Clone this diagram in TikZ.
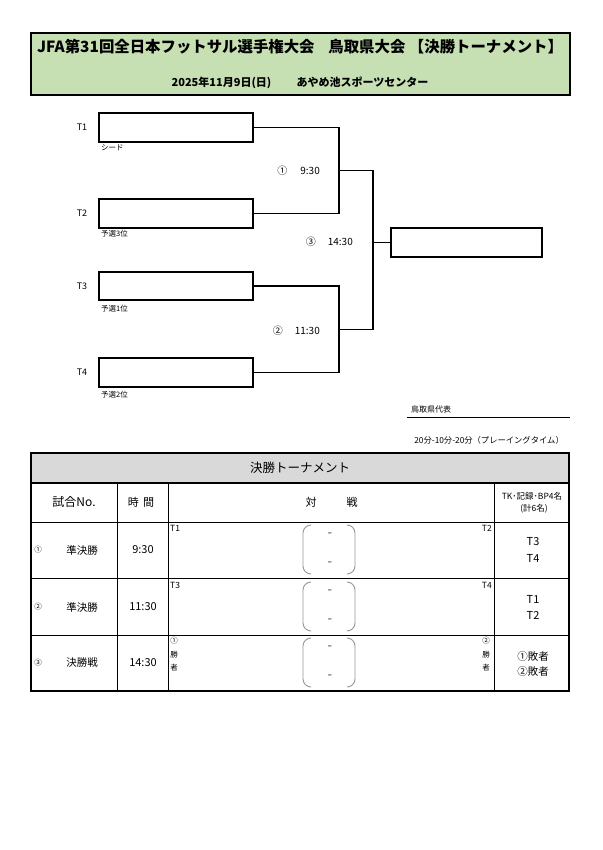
\documentclass[tikz,border=0pt]{standalone}
\usepackage{fontspec}
\setmainfont{Noto Sans CJK JP}
\newfontfamily\dashfont{DejaVu Sans}
\usetikzlibrary{positioning}
\definecolor{headgreen}{RGB}{198,224,180}
\definecolor{headgray}{RGB}{217,217,217}
\definecolor{bracegray}{RGB}{150,150,150}

\tikzset{
  titletext/.style={font=\fontsize{15.4}{18}\selectfont\bfseries},
  subtext/.style={font=\fontsize{11}{13}\selectfont\bfseries},
  teambox/.style={draw=black, line width=1.2pt, minimum width=154pt, minimum height=29pt},
  teamlabel/.style={font=\fontsize{9}{11}\selectfont},
  seedlabel/.style={font=\fontsize{7.5}{9}\selectfont, anchor=west},
  timelabel/.style={font=\fontsize{10}{12}\selectfont, anchor=east},
  bracket/.style={line width=1.2pt},
  smalltext/.style={font=\fontsize{7.5}{9}\selectfont},
  celltext/.style={font=\fontsize{10.5}{12}\selectfont},
  bigcell/.style={font=\fontsize{11}{13}\selectfont},
  paren/.style={draw=bracegray, line width=0.9pt, rounded corners=8pt},
  scoredash/.style={font=\dashfont\fontsize{11}{12}\selectfont\bfseries, text=bracegray}
}

\begin{document}
\begin{tikzpicture}[x=1pt, y=-1pt, inner sep=0pt]
\useasboundingbox (0,0) rectangle (602,850);

% title block
\draw[fill=headgreen, line width=2pt] (31,33) rectangle (570,95);
\node[titletext] (title) at (300,47) {JFA第31回全日本フットサル選手権大会\hspace{0.9em}鳥取県大会 【決勝トーナメント】};
\node[subtext] (date) at (300,83) {2025年11月9日(日)\hspace{2.3em}あやめ池スポーツセンター};

% bracket
\node[teambox] (t1) at (176,127.5) {};
\node[teambox] (t2) at (176,213.5) {};
\node[teambox, minimum height=28pt] (t3) at (176,286) {};
\node[teambox] (t4) at (176,372.5) {};
\node[teambox, minimum width=151pt] (champ) at (466.5,242.5) {};
\node[teamlabel] (l1) at (82,127.5) {T1};
\node[teamlabel] (l2) at (82,213.5) {T2};
\node[teamlabel] (l3) at (82,286) {T3};
\node[teamlabel] (l4) at (82,372.5) {T4};
\node[seedlabel] (s1) at (101,148) {シード};
\node[seedlabel] (s2) at (101,234) {予選3位};
\node[seedlabel] (s3) at (101,309) {予選1位};
\node[seedlabel] (s4) at (101,395) {予選2位};
\coordinate (semi1) at (339,170.5);
\coordinate (semi2) at (339,329.5);
\coordinate (final) at (373,242.5);
\draw[bracket] (t1.east) -| (semi1) |- (t2.east);
\draw[bracket] (t3.east) -| (semi2) |- (t4.east);
\draw[bracket] (semi1) -| (final) |- (semi2);
\draw[bracket] (final) -- (champ.west);
\node[timelabel] (m1) at (320,171) {①\hspace{1.3em}9:30};
\node[timelabel] (m3) at (353,242) {③\hspace{1.2em}14:30};
\node[timelabel] (m2) at (320,331) {②\hspace{1.2em}11:30};

% representative line and note
\node[font=\fontsize{8}{10}\selectfont, anchor=west] (rep) at (411,409) {鳥取県代表};
\coordinate (repa) at (407,417);
\coordinate (repb) at (570,417);
\draw[line width=1pt] (repa) -- (repb);
\node[font=\fontsize{8.3}{10}\selectfont, anchor=east] (note) at (564,440) {20分-10分-20分（プレーイングタイム）};

% table frame
\fill[headgray] (31,453) rectangle (569,483);
\draw[line width=1.5pt] (31,483) -- (569,483);
\draw[line width=0.8pt] (31,522) -- (569,522);
\draw[line width=0.8pt] (31,578) -- (569,578);
\draw[line width=0.8pt] (31,635) -- (569,635);
\draw[line width=0.8pt] (117,483) -- (117,691);
\draw[line width=0.8pt] (168,483) -- (168,691);
\draw[line width=0.8pt] (494,483) -- (494,691);
\draw[line width=2pt] (31,453) rectangle (569,691);

% table heads
\node[font=\fontsize{12.5}{14}\selectfont] (thead) at (300,468) {決勝トーナメント};
\node[font=\fontsize{12}{14}\selectfont] (hno) at (74,502) {試合No.};
\node[bigcell] (htime) at (141,502) {時\hspace{0.4em}間};
\node[bigcell] (hvs1) at (311,502) {対};
\node[bigcell] (hvs2) at (352,502) {戦};
\node[font=\fontsize{8.5}{10}\selectfont] (hstaff1) at (532,496) {TK･記録･BP4名};
\node[font=\fontsize{8.5}{10}\selectfont] (hstaff2) at (534,509) {(計6名)};

% match 1
\node[smalltext] (n1) at (38,550) {①};
\node[celltext] (r1) at (82,550) {準決勝};
\node[bigcell] (k1) at (143,550) {9:30};
\node[font=\fontsize{8.5}{10}\selectfont, anchor=west] (a1) at (170,528) {T1};
\node[font=\fontsize{8.5}{10}\selectfont, anchor=east] (b1) at (492,528) {T2};
\draw[paren] (311,525) -- (303,525) -- (303,574) -- (311,574);
\draw[paren] (347,525) -- (355,525) -- (355,574) -- (347,574);
\node[scoredash] (d1a) at (330,535) {-};
\node[scoredash] (d1b) at (330,564) {-};
\node[bigcell] (w1a) at (533,542) {T3};
\node[bigcell] (w1b) at (533,558) {T4};

% match 2
\node[smalltext] (n2) at (38,607) {②};
\node[celltext] (r2) at (82,607) {準決勝};
\node[bigcell] (k2) at (143,607) {11:30};
\node[font=\fontsize{8.5}{10}\selectfont, anchor=west] (a2) at (170,585) {T3};
\node[font=\fontsize{8.5}{10}\selectfont, anchor=east] (b2) at (492,585) {T4};
\draw[paren] (311,582) -- (303,582) -- (303,631) -- (311,631);
\draw[paren] (347,582) -- (355,582) -- (355,631) -- (347,631);
\node[scoredash] (d2a) at (330,592) {-};
\node[scoredash] (d2b) at (330,621) {-};
\node[bigcell] (w2a) at (533,599) {T1};
\node[bigcell] (w2b) at (533,615) {T2};

% final
\node[smalltext] (n3) at (38,663) {③};
\node[celltext] (r3) at (82,663) {決勝戦};
\node[bigcell] (k3) at (143,663) {14:30};
\node[smalltext] (a3a) at (174,641) {①};
\node[smalltext] (a3b) at (174,655) {勝};
\node[smalltext] (a3c) at (174,668) {者};
\node[smalltext] (b3a) at (486,641) {②};
\node[smalltext] (b3b) at (486,655) {勝};
\node[smalltext] (b3c) at (486,668) {者};
\draw[paren] (311,638) -- (303,638) -- (303,687) -- (311,687);
\draw[paren] (347,638) -- (355,638) -- (355,687) -- (347,687);
\node[scoredash] (d3a) at (330,648) {-};
\node[scoredash] (d3b) at (330,677) {-};
\node[celltext] (w3a) at (533,657) {①敗者};
\node[celltext] (w3b) at (533,672) {②敗者};
\end{tikzpicture}
\end{document}
